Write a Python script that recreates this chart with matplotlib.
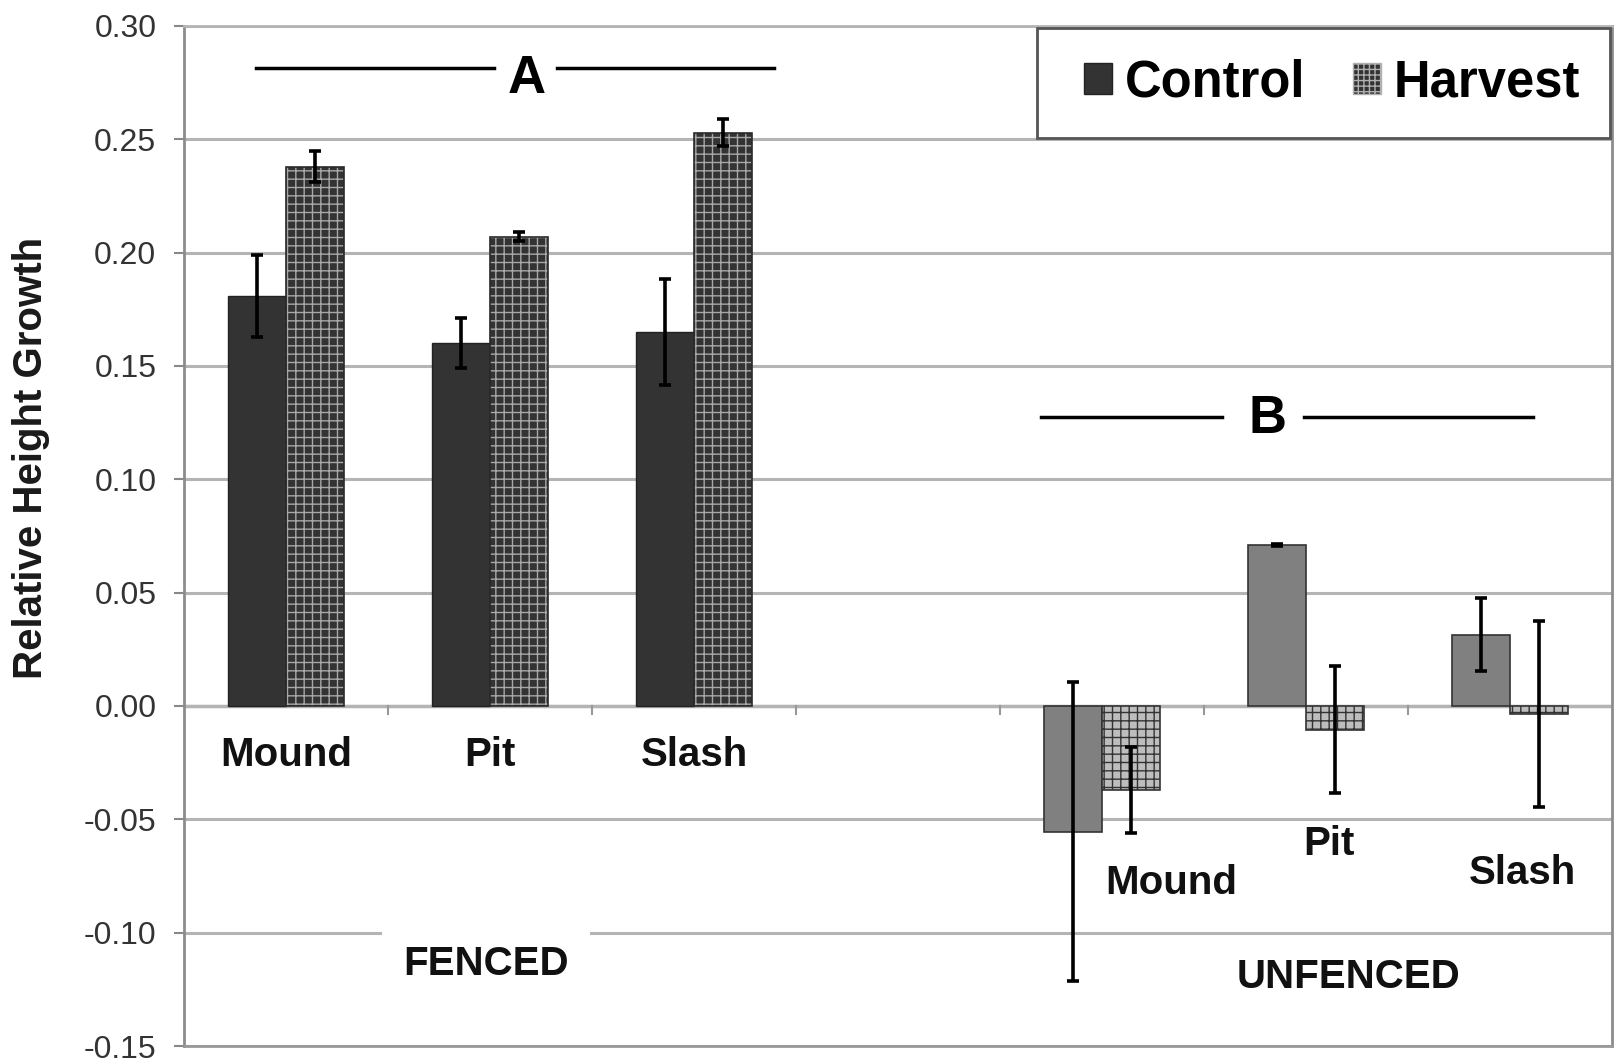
import matplotlib
matplotlib.use("Agg")
import matplotlib.pyplot as plt
import numpy as np
from matplotlib.patches import Patch, Rectangle

plt.rcParams['font.family'] = ['Liberation Sans', 'DejaVu Sans']
plt.rcParams['hatch.linewidth'] = 1.0

# Treatment means and standard errors
sites = ["Mound", "Pit", "Slash"]
fenced_control = [0.181, 0.160, 0.165]
fenced_control_err = [0.018, 0.011, 0.0235]
fenced_harvest = [0.238, 0.207, 0.253]
fenced_harvest_err = [0.007, 0.002, 0.006]
unfenced_control = [-0.0555, 0.071, 0.0315]
unfenced_control_err = [0.066, 0.0005, 0.016]
unfenced_harvest = [-0.037, -0.0105, -0.0035]
unfenced_harvest_err = [0.019, 0.028, 0.041]
yticks = [-0.15, -0.10, -0.05, 0.00, 0.05, 0.10, 0.15, 0.20, 0.25, 0.30]

fig = plt.figure(figsize=(16.2, 10.64), dpi=100)
ax = fig.add_axes([0.1136, 0.0169, 0.8815, 0.9587])

grid_col = '#b4b4b4'
w = 0.285
fenced_x = np.arange(3) + 0.5
unfenced_x = np.arange(3) + 4.5

# fenced bars
ax.bar(fenced_x - w / 2, fenced_control, w, color='#333333', edgecolor='#222222',
       linewidth=1, zorder=2)
ax.bar(fenced_x + w / 2, fenced_harvest, w, color='#333333', edgecolor='#a8a8a8',
       hatch='++', linewidth=0, zorder=2)
ax.bar(fenced_x + w / 2, fenced_harvest, w, fill=False, edgecolor='#2a2a2a',
       linewidth=1.2, zorder=2.1)

# unfenced bars
ax.bar(unfenced_x - w / 2, unfenced_control, w, color='#808080', edgecolor='#333333',
       linewidth=1.2, zorder=2)
ax.bar(unfenced_x + w / 2, unfenced_harvest, w, color='#bdbdbd', edgecolor='#333333',
       hatch='++', linewidth=1.2, zorder=2)

eb = dict(fmt='none', ecolor='black', elinewidth=2.6, capsize=4, capthick=2.6, zorder=4)
ax.errorbar(fenced_x - w / 2, fenced_control, yerr=fenced_control_err, **eb)
ax.errorbar(fenced_x + w / 2, fenced_harvest, yerr=fenced_harvest_err, **eb)
ax.errorbar(unfenced_x - w / 2, unfenced_control, yerr=unfenced_control_err, **eb)
ax.errorbar(unfenced_x + w / 2, unfenced_harvest, yerr=unfenced_harvest_err, **eb)

ax.set_xlim(0, 7)
ax.set_ylim(-0.15, 0.30)
ax.set_yticks(yticks)
ax.set_yticklabels([f"{v:.2f}" for v in yticks], fontsize=23, color='#333333')
ax.yaxis.grid(True, color=grid_col, linewidth=2.2)
ax.set_axisbelow(True)
ax.tick_params(axis='y', length=7, width=1.5, color='#888888', pad=13)
ax.set_xticks([])

# zero line with category ticks
ax.axhline(0, color=grid_col, linewidth=2.5, zorder=1)
for xb in range(1, 7):
    ax.plot([xb, xb], [0, -0.0035], color='#999999', linewidth=1.5, zorder=1)

for side in ['left', 'right', 'top', 'bottom']:
    ax.spines[side].set_color('#8c8c8c')
    ax.spines[side].set_linewidth(2)
ax.spines['top'].set_color(grid_col)
ax.spines['bottom'].set_color('#999999')

fig.text(31 / 1620, 1 - 458 / 1064, "Relative Height Growth", fontsize=29,
         fontweight='bold', rotation=90, ha='center', va='center', color='#1a1a1a')

# category labels
lab = dict(fontsize=29, fontweight='bold', ha='center', va='center', color='#111111')
for xc, s in zip(fenced_x, sites):
    ax.text(xc, -0.0215, s, **lab)
ax.text(4.84, -0.078, sites[0], **lab)
ax.text(5.61, -0.061, sites[1], **lab)
ax.text(6.56, -0.0735, sites[2], **lab)

box = dict(facecolor='white', edgecolor='none', pad=15)
ax.text(1.48, -0.114, "FENCED", fontsize=29, fontweight='bold', ha='center', va='center',
        color='#111111', bbox=box, zorder=3)
ax.text(5.71, -0.1195, "UNFENCED", fontsize=29, fontweight='bold', ha='center', va='center',
        color='#111111', zorder=3)

# significance groups
ax.plot([0.355, 1.52], [0.2815, 0.2815], color='black', linewidth=2.5)
ax.plot([1.83, 2.89], [0.2815, 0.2815], color='black', linewidth=2.5)
ax.text(1.68, 0.2765, "A", fontsize=38, fontweight='bold', ha='center', va='center')
ax.plot([4.20, 5.09], [0.1276, 0.1276], color='black', linewidth=2.5)
ax.plot([5.49, 6.61], [0.1276, 0.1276], color='black', linewidth=2.5)
ax.text(5.31, 0.1265, "B", fontsize=38, fontweight='bold', ha='center', va='center')

# legend with its own frame
ax.add_patch(Rectangle((0.597, 0.8906), 0.4016, 0.1074, transform=ax.transAxes,
                       facecolor='white', edgecolor='#555555', linewidth=2, zorder=5))
handles = [Patch(facecolor='#333333', edgecolor='#222222', label='Control'),
           Patch(facecolor='#333333', edgecolor='#b0b0b0', hatch='+++', label='Harvest')]
leg = ax.legend(handles=handles, ncol=2, loc='center', bbox_to_anchor=(0.804, 0.944),
                prop={'size': 36.5, 'weight': 'bold'}, frameon=False,
                handlelength=0.55, handleheight=0.55, handletextpad=0.25,
                columnspacing=0.95, borderpad=0, borderaxespad=0)
leg.set_zorder(6)

fig.savefig("out.png", dpi=100)
